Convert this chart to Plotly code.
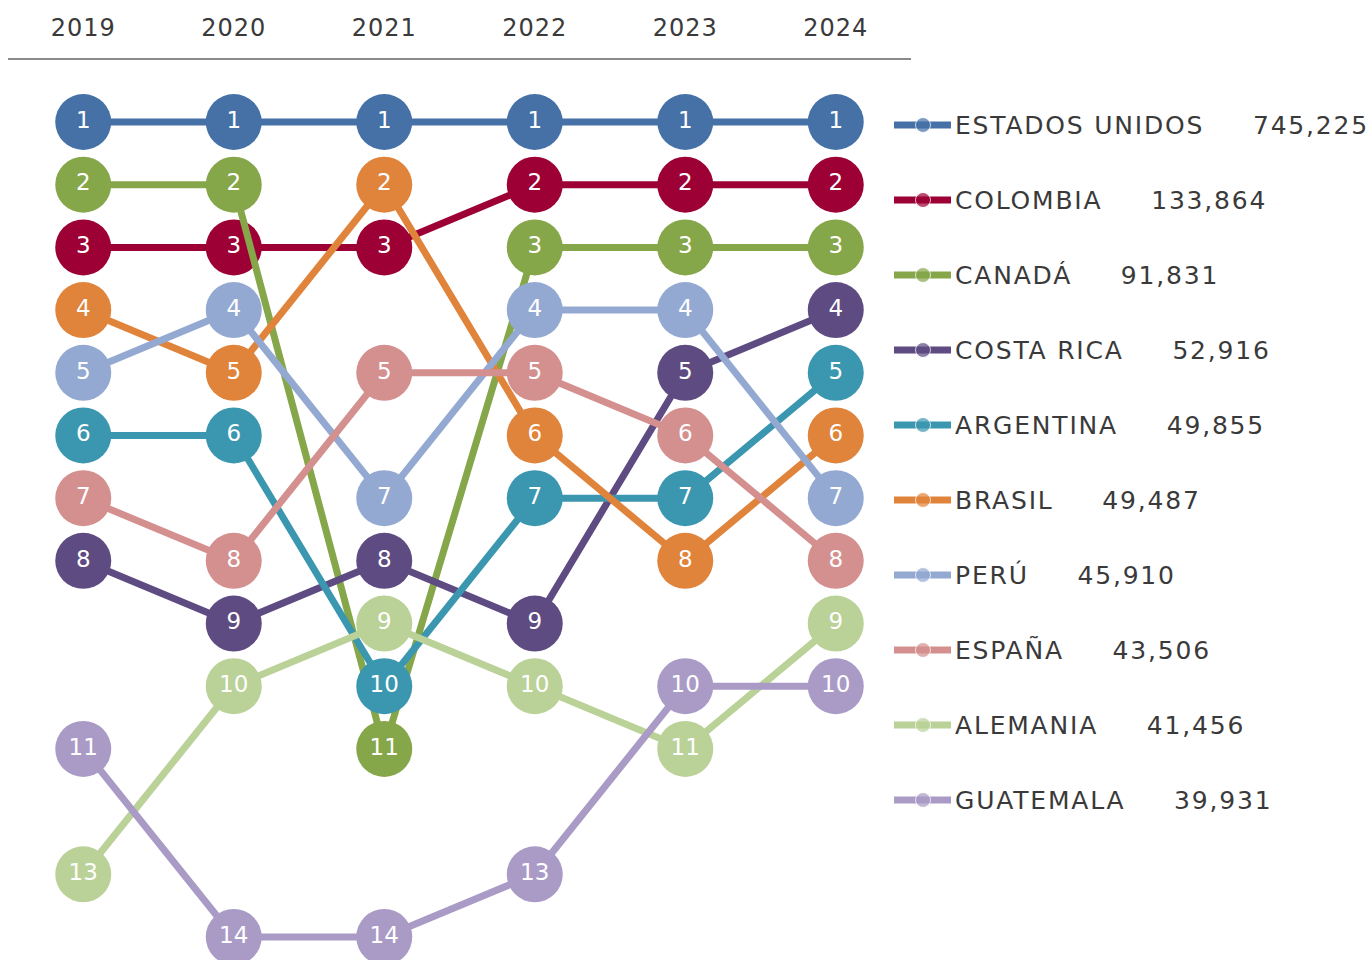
import plotly.graph_objects as go

years = ["2019", "2020", "2021", "2022", "2023", "2024"]
countries = ["ESTADOS UNIDOS", "COLOMBIA", "CANADÁ", "COSTA RICA", "ARGENTINA",
             "BRASIL", "PERÚ", "ESPAÑA", "ALEMANIA", "GUATEMALA"]
totals = ["745,225", "133,864", "91,831", "52,916", "49,855",
          "49,487", "45,910", "43,506", "41,456", "39,931"]
ranks = [
    [1, 1, 1, 1, 1, 1],
    [3, 3, 3, 2, 2, 2],
    [2, 2, 11, 3, 3, 3],
    [8, 9, 8, 9, 5, 4],
    [6, 6, 10, 7, 7, 5],
    [4, 5, 2, 6, 8, 6],
    [5, 4, 7, 4, 4, 7],
    [7, 8, 5, 5, 6, 8],
    [13, 10, 9, 10, 11, 9],
    [11, 14, 14, 13, 10, 10],
]
colors = ["#4571a7", "#9c0035", "#86a64a", "#5e4b82", "#3b97b0",
          "#e0833b", "#93a9d2", "#d48f8f", "#bad198", "#a99bc6"]

FONT = "DejaVu Sans"
W, H = 1371, 960

fig = go.Figure()
xi = list(range(len(years)))
for name, r, c in zip(countries, ranks, colors):
    fig.add_trace(go.Scatter(
        x=xi, y=r, mode="lines+markers+text",
        line=dict(color=c, width=7),
        marker=dict(size=56, color=c),
        text=[str(v) for v in r], textposition="middle center",
        textfont=dict(family=FONT, size=23, color="white"),
        cliponaxis=False, showlegend=False, hoverinfo="skip",
        xaxis="x", yaxis="y",
    ))

# custom legend on its own axes
for i, (name, tot, c) in enumerate(zip(countries, totals, colors)):
    fig.add_trace(go.Scatter(
        x=[894, 923, 951], y=[i, i, i], mode="lines+markers",
        line=dict(color=c, width=7),
        marker=dict(size=[0, 15, 0], color=c),
        cliponaxis=False, showlegend=False, hoverinfo="skip",
        xaxis="x2", yaxis="y2",
    ))
    fig.add_annotation(
        x=953, y=i, xref="x2", yref="y2", xanchor="left", yanchor="middle",
        text=name + "\u00a0" * 5 + tot, showarrow=False,
        font=dict(family=FONT, size=25, color="#3a3a3a"),
    )

fig.update_layout(
    width=W, height=H,
    margin=dict(l=0, r=0, t=0, b=0),
    paper_bgcolor="white", plot_bgcolor="rgba(0,0,0,0)",
    xaxis=dict(
        domain=[8 / W, 911 / W], range=[-0.5, 5.5],
        tickvals=xi, ticktext=years, side="top",
        tickfont=dict(family=FONT, size=24, color="#3a3a3a"),
        ticks="", ticklabelstandoff=12,
        showline=True, linecolor="#8a8a8a", linewidth=2,
        showgrid=False, zeroline=False, fixedrange=True,
    ),
    yaxis=dict(
        domain=[0, 1 - 60 / H], range=[14.367, 0.011],
        visible=False, showgrid=False, zeroline=False, fixedrange=True,
    ),
    xaxis2=dict(domain=[0, 1], range=[0, W], visible=False, anchor="y2",
                fixedrange=True),
    yaxis2=dict(domain=[0, 1], range=[(H - 125) / 75, -125 / 75], visible=False,
                anchor="x2", fixedrange=True),
    showlegend=False,
)

post = (
    "document.body.style.margin='0px';"
    "document.querySelectorAll('.annotation-text').forEach(function(t){"
    "var bb=t.getBBox();"
    "t.setAttribute('text-anchor','start');"
    "t.setAttribute('x', bb.x);"
    "t.style.letterSpacing='1.8px';});"
    "document.querySelectorAll('.xtick text').forEach(function(t){t.style.letterSpacing='1px';});"
)
fig.write_html("out.html", post_script=post, config={"displayModeBar": False})
